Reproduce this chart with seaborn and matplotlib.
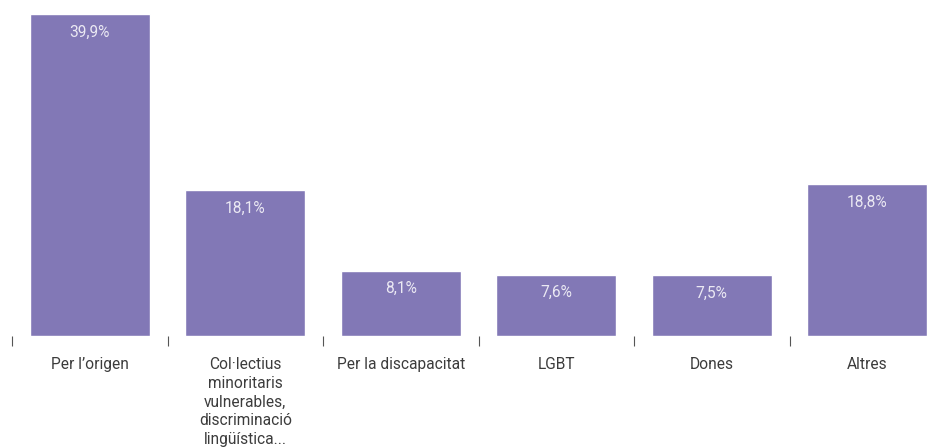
import matplotlib
matplotlib.use("Agg")
import matplotlib.pyplot as plt
import seaborn as sns
import pandas as pd

categories = ["Per l\u2019origen",
              "Col\u00b7lectius\nminoritaris\nvulnerables,\ndiscriminaci\u00f3\nling\u00fc\u00edstica...",
              "Per la discapacitat", "LGBT", "Dones", "Altres"]
values = [39.9, 18.1, 8.1, 7.6, 7.5, 18.8]
labels = ["39,9%", "18,1%", "8,1%", "7,6%", "7,5%", "18,8%"]

sns.set_theme(style="white")
plt.rcParams['font.family'] = ['Roboto', 'DejaVu Sans']

df = pd.DataFrame({"cat": categories, "val": values})

fig = plt.figure(figsize=(9.32, 4.47), dpi=100)
ax = fig.add_axes([12/932, 111/447, 920/932, 322/447])
sns.barplot(data=df, x="cat", y="val", color="#8278b6", saturation=1, width=0.77, ax=ax)

ax.set_xlim(-0.5, -0.5 + 920/155.5)
ax.set_ylim(0, 39.9)
ax.set_xlabel("")
ax.set_ylabel("")
ax.set_yticks([])
for s in ax.spines.values():
    s.set_visible(False)

ax.set_xticks([i - 0.5 for i in range(len(categories))], minor=True)
ax.tick_params(axis="x", which="minor", bottom=True, length=7, width=0.8,
               color="#555555", direction="out")
ax.tick_params(axis="x", which="major", bottom=True, length=0, pad=15,
               labelsize=11.2, labelcolor="#3c3c3c")
for t in ax.get_xticklabels():
    t.set_linespacing(1.32)
    t.set_va("top")

for i, (v, lab) in enumerate(zip(values, labels)):
    ax.annotate(lab, (i, v), xytext=(0, -7.5), textcoords="offset points",
                ha="center", va="top", color="#ebe9f3", fontsize=11.2)

fig.savefig("out.png", dpi=100)
